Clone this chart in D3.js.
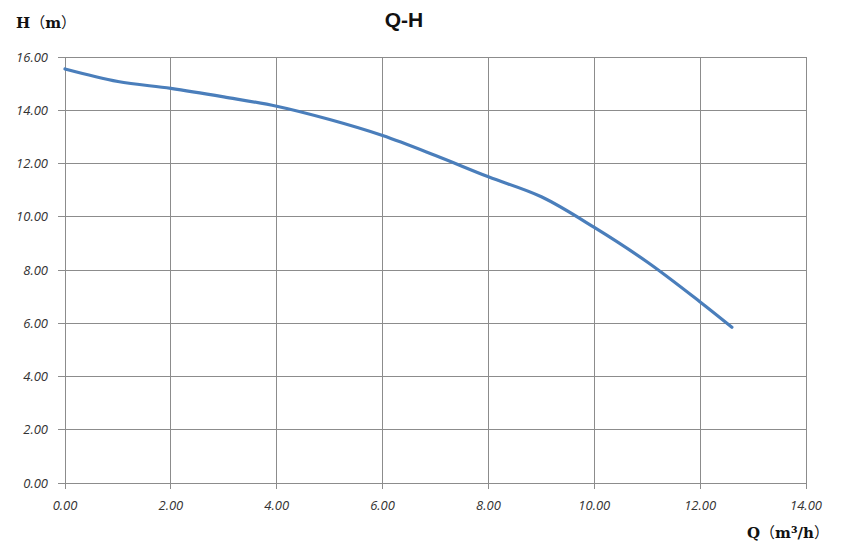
<!DOCTYPE html>
<html><head><meta charset="utf-8">
<script src="https://cdn.jsdelivr.net/npm/d3@7"></script>
<style>body{margin:0;background:#fff}svg{display:block}</style>
</head><body>
<script>
const flow = [0, 1, 2, 3, 4, 5, 6, 7, 8, 9, 10, 11, 12, 12.6];
const head = [15.55, 15.08, 14.82, 14.5, 14.15, 13.65, 13.05, 12.3, 11.5, 10.75, 9.6, 8.3, 6.8, 5.85];
const xTicks = [0, 2, 4, 6, 8, 10, 12, 14];
const yTicks = [0, 2, 4, 6, 8, 10, 12, 14, 16];
const title = "Q-H";
const yLabelParts = ["H", "（", "m", "）"];
const xLabelParts = ["Q", "（", "m³/h", "）"];

const W = 862, H = 557;
const m = {l: 65, r: 56, t: 57, b: 74};
const svg = d3.select("body").append("svg").attr("width", W).attr("height", H);
const x = d3.scaleLinear().domain([0, 14]).range([m.l, W - m.r]);
const y = d3.scaleLinear().domain([0, 16]).range([H - m.b, m.t]);

const grid = "#8c8c8c";
svg.append("g").selectAll("line").data(xTicks).join("line")
  .attr("x1", d => x(d)).attr("x2", d => x(d)).attr("y1", y(0)).attr("y2", y(16))
  .attr("stroke", grid).attr("stroke-width", 1).attr("shape-rendering", "crispEdges");
svg.append("g").selectAll("line").data(yTicks).join("line")
  .attr("x1", x(0) - 7).attr("x2", x(14)).attr("y1", d => y(d)).attr("y2", d => y(d))
  .attr("stroke", grid).attr("stroke-width", 1).attr("shape-rendering", "crispEdges");
svg.append("g").selectAll("line").data(xTicks).join("line")
  .attr("x1", d => x(d)).attr("x2", d => x(d)).attr("y1", y(0)).attr("y2", y(0) + 6)
  .attr("stroke", grid).attr("shape-rendering", "crispEdges");

const tf = "'Open Sans', 'DejaVu Sans', sans-serif";
svg.append("g").selectAll("text").data(yTicks).join("text")
  .attr("x", x(0) - 17).attr("y", d => y(d) + 4.5).attr("text-anchor", "end")
  .attr("font-family", tf).attr("font-style", "italic").attr("font-size", 13).attr("fill", "#333")
  .text(d => d.toFixed(2));
svg.append("g").selectAll("text").data(xTicks).join("text")
  .attr("x", d => x(d)).attr("y", y(0) + 27).attr("text-anchor", "middle")
  .attr("font-family", tf).attr("font-style", "italic").attr("font-size", 13).attr("fill", "#333")
  .text(d => d.toFixed(2));

const pts = flow.map((q, i) => [q, head[i]]);
svg.append("path").datum(pts)
  .attr("d", d3.line().x(d => x(d[0])).y(d => y(d[1])).curve(d3.curveCatmullRom))
  .attr("fill", "none").attr("stroke", "#4a7ebb").attr("stroke-width", 3.2).attr("stroke-linecap", "round");

svg.append("text").attr("x", 404).attr("y", 27).attr("text-anchor", "middle")
  .attr("font-family", "'Liberation Sans', Arial, sans-serif").attr("font-weight", "bold").attr("font-size", 21)
  .attr("fill", "#111").text(title);

function label(parts, px, py) {
  const t = svg.append("text").attr("x", px).attr("y", py)
    .attr("font-weight", "bold").attr("font-size", 15).attr("fill", "#111");
  parts.forEach(p => {
    const cjk = p === "（" || p === "）";
    t.append("tspan")
      .attr("font-family", cjk ? "'Noto Sans CJK SC', sans-serif" : "'DejaVu Serif', serif")
      .attr("font-weight", cjk ? "normal" : "bold")
      .text(p);
  });
}
label(yLabelParts, 16, 28);
label(xLabelParts, 747, 538);
</script>
</body></html>
